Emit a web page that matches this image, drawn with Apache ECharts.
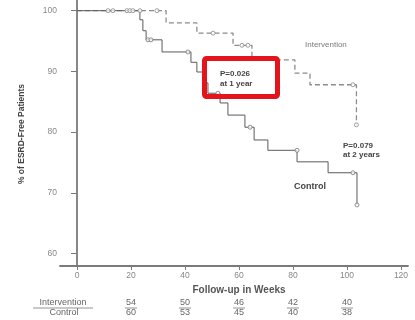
<!DOCTYPE html>
<html>
<head>
<meta charset="utf-8">
<script src="https://cdn.jsdelivr.net/npm/echarts@6/dist/echarts.min.js"></script>
<style>
html,body{margin:0;padding:0;background:#fff;}
#c{width:415px;height:320px;}
</style>
</head>
<body>
<div id="c"></div>
<script>
const xTicks = [0, 20, 40, 60, 80, 100, 120];
const yTicks = [60, 70, 80, 90, 100];

const controlWeeks = [0, 23.3, 24.4, 25.6, 31.5, 42.2, 44.4, 46.7, 48.5, 53, 55.9, 62.2, 65.6, 70.7, 81.5, 93, 103.7];
const controlSurv  = [100, 98.5, 96.7, 95.2, 93.2, 91.5, 89.9, 88.1, 86.4, 84.8, 82.8, 80.8, 78.7, 77.0, 75.1, 73.3, 68.0];

const interventionWeeks = [0, 33, 44.4, 57.8, 64.8, 80.7, 86.3, 103.5];
const interventionSurv  = [100, 98.0, 96.3, 94.3, 91.9, 89.7, 87.8, 81.2];

const controlCensorWeeks = [26.3, 27.4, 41.1, 52.2, 64.1, 81.5, 102.2, 103.7];
const controlCensorSurv  = [95.2, 95.2, 93.2, 86.4, 80.8, 77.0, 73.3, 68.0];

const interventionCensorWeeks = [11.5, 13.3, 18.5, 19.6, 20.7, 23.3, 29.6, 50.4, 61.1, 63.3, 102.2, 103.5];
const interventionCensorSurv  = [100, 100, 100, 100, 100, 100, 100, 96.3, 94.3, 94.3, 87.8, 81.2];

const riskWeeks = [20, 40, 60, 80, 100];
const riskIntervention = [54, 50, 46, 42, 40];
const riskControl = [60, 53, 45, 40, 38];

const zip = (a, b) => a.map((v, i) => [v, b[i]]);

const chart = echarts.init(document.getElementById('c'), null, {renderer: 'canvas'});
const axisColor = '#7a7a7a';
const labelColor = '#888';
chart.setOption({
  animation: false,
  grid: {left: 60, top: 0, right: 7, bottom: 54},
  xAxis: {
    type: 'value', min: -6.3, max: 122.6,
    axisLine: {lineStyle: {color: axisColor, width: 1.8}},
    axisTick: {length: 4, lineStyle: {color: axisColor}, customValues: xTicks},
    axisLabel: {customValues: xTicks, color: labelColor, fontSize: 8.5, margin: 5, fontFamily: 'Liberation Sans'},
    splitLine: {show: false}
  },
  yAxis: {
    type: 'value', min: 57.94, max: 101.76,
    axisLine: {show: true, lineStyle: {color: axisColor, width: 1.8}},
    axisTick: {show: true, length: 6, lineStyle: {color: axisColor}, customValues: yTicks},
    axisLabel: {customValues: yTicks, color: labelColor, fontSize: 8.5, margin: 3, fontFamily: 'Liberation Sans'},
    splitLine: {show: false}
  },
  series: [
    {
      type: 'line', step: 'end', symbol: 'none',
      data: zip(interventionWeeks, interventionSurv),
      lineStyle: {color: '#8c8c8c', width: 1.3, type: [5, 3]}, z: 2
    },
    {
      type: 'line', step: 'end', symbol: 'none',
      data: zip(controlWeeks, controlSurv),
      lineStyle: {color: '#5a5a5a', width: 1}, z: 3
    },
    {
      type: 'scatter', symbol: 'circle', symbolSize: 4,
      data: zip(interventionCensorWeeks, interventionCensorSurv),
      itemStyle: {color: '#fff', borderColor: '#888', borderWidth: 1}, z: 4
    },
    {
      type: 'scatter', symbol: 'circle', symbolSize: 4,
      data: zip(controlCensorWeeks, controlCensorSurv),
      itemStyle: {color: '#fff', borderColor: '#777', borderWidth: 1}, z: 4
    }
  ]
});

const px = w => chart.convertToPixel({xAxisIndex: 0}, w);
const tableFont = '9px "Liberation Sans"';
const gfx = [
  {type: 'text', x: 22, y: 134, rotation: Math.PI / 2, style: {text: '% of ESRD-Free Patients', font: 'bold 8.5px "Liberation Sans Narrow", "Liberation Sans"', fill: '#444', align: 'center', verticalAlign: 'middle'}},
  {type: 'text', x: 239, y: 290, style: {text: 'Follow-up in Weeks', font: 'bold 10px "Liberation Sans"', fill: '#555', align: 'center', verticalAlign: 'middle'}},
  {type: 'text', x: 305, y: 45, style: {text: 'Intervention', font: '8px "Liberation Sans"', fill: '#7a7a7a', align: 'left', verticalAlign: 'middle'}},
  {type: 'text', x: 220, y: 74, style: {text: 'P=0.026', font: 'bold 8px "Liberation Sans"', fill: '#444', align: 'left', verticalAlign: 'middle'}},
  {type: 'text', x: 220, y: 84, style: {text: 'at 1 year', font: 'bold 8px "Liberation Sans"', fill: '#444', align: 'left', verticalAlign: 'middle'}},
  {type: 'text', x: 343, y: 146, style: {text: 'P=0.079', font: 'bold 8px "Liberation Sans"', fill: '#444', align: 'left', verticalAlign: 'middle'}},
  {type: 'text', x: 343, y: 155, style: {text: 'at 2 years', font: 'bold 8px "Liberation Sans"', fill: '#444', align: 'left', verticalAlign: 'middle'}},
  {type: 'text', x: 294, y: 187, style: {text: 'Control', font: 'bold 9px "Liberation Sans"', fill: '#444', align: 'left', verticalAlign: 'middle'}},
  {type: 'rect', shape: {x: 204.5, y: 58.5, width: 73, height: 38, r: 2}, style: {fill: 'none', stroke: '#e3141b', lineWidth: 5}, z: 10},
  {type: 'text', x: 63, y: 303, style: {text: 'Intervention', font: tableFont, fill: '#666', align: 'center', verticalAlign: 'middle'}},
  {type: 'line', shape: {x1: 33, y1: 308, x2: 93, y2: 308}, style: {stroke: '#777', lineWidth: 0.8}},
  {type: 'text', x: 64, y: 313, style: {text: 'Control', font: tableFont, fill: '#666', align: 'center', verticalAlign: 'middle'}}
];
riskWeeks.forEach((w, i) => {
  const x = px(w);
  gfx.push({type: 'text', x: x, y: 303, style: {text: String(riskIntervention[i]), font: tableFont, fill: '#666', align: 'center', verticalAlign: 'middle'}});
  gfx.push({type: 'line', shape: {x1: x - 6, y1: 308, x2: x + 6, y2: 308}, style: {stroke: '#777', lineWidth: 0.8}});
  gfx.push({type: 'text', x: x, y: 313, style: {text: String(riskControl[i]), font: tableFont, fill: '#666', align: 'center', verticalAlign: 'middle'}});
});
chart.setOption({graphic: gfx});
</script>
</body>
</html>
